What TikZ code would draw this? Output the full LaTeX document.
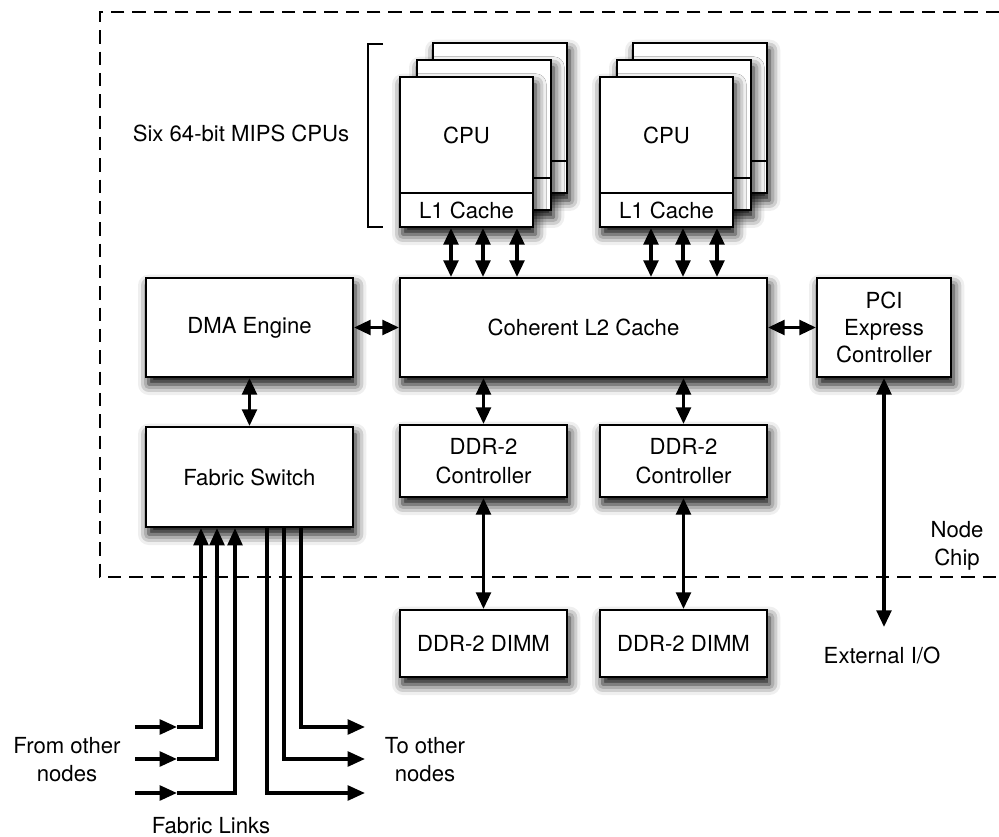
\documentclass[tikz,border=0pt]{standalone}
\usepackage{fontspec}
\setmainfont{TeX Gyre Heros}
\usetikzlibrary{arrows.meta,fit,shadows.blur,calc}
\begin{document}
\begin{tikzpicture}[x=0.75pt,y=-0.75pt,
  font=\fontsize{16.6}{19}\selectfont,
  box/.style={draw,line width=1.5pt,fill=white,inner sep=0pt,
    blur shadow={shadow xshift=2pt,shadow yshift=-5.5pt,shadow blur radius=8pt,shadow opacity=100}},
  plainbox/.style={draw,line width=1.5pt,fill=white,inner sep=0pt},
  link/.style={line width=2.6pt,line join=miter},
  biarrow/.style={link,{Triangle[length=12.5pt,width=11pt]}-{Triangle[length=12.5pt,width=11pt]}},
  uniarrow/.style={link,-{Triangle[length=13pt,width=11pt]}},
  chip/.style={line width=1.1pt,dash pattern=on 10pt off 6pt},
  lbl/.style={align=center,inner sep=0pt}]
\useasboundingbox (0,0) rectangle (999,837);

% chip boundary
\draw[chip] (999,12) -- (100,12) -- (100,577) -- (999,577);

% bracket
\draw[line width=1.3pt] (383,44) -- (368,44) -- (368,227) -- (383,227);
\node[lbl] (six) at (241,133) {Six 64-bit MIPS CPUs};

% left CPU stack
\node[box,fit={(433,43)(567,193)}] (cpuA3) {};
\draw[line width=1.5pt] ([yshift=25pt]cpuA3.south west) -- ([yshift=25pt]cpuA3.south east);
\node[box,fit={(417,60)(551,210)}] (cpuA2) {};
\draw[line width=1.5pt] ([yshift=25pt]cpuA2.south west) -- ([yshift=25pt]cpuA2.south east);
\node[box,fit={(400,77)(533,227)}] (cpuA) {};
\node[plainbox,fit={(400,193)(533,227)}] (l1A) {};
\node[lbl] (l1At) at (l1A.center) {L1 Cache};
\node[lbl] (cpuAt) at (466.5,135) {CPU};

% right CPU stack
\node[box,fit={(633,43)(767,193)}] (cpuB3) {};
\draw[line width=1.5pt] ([yshift=25pt]cpuB3.south west) -- ([yshift=25pt]cpuB3.south east);
\node[box,fit={(617,60)(751,210)}] (cpuB2) {};
\draw[line width=1.5pt] ([yshift=25pt]cpuB2.south west) -- ([yshift=25pt]cpuB2.south east);
\node[box,fit={(600,77)(733,227)}] (cpuB) {};
\node[plainbox,fit={(600,193)(733,227)}] (l1B) {};
\node[lbl] (l1Bt) at (l1B.center) {L1 Cache};
\node[lbl] (cpuBt) at (666.5,135) {CPU};

% main blocks
\node[box,fit={(146,278)(353,377)}] (dma) {};
\node[lbl] (dmat) at (dma.center) {DMA Engine};
\node[box,fit={(400,278)(767,377)}] (l2) {};
\node[lbl] (l2t) at (l2.center) {Coherent L2 Cache};
\node[box,fit={(817,278)(951,377)}] (pci) {};
\node[lbl,font=\fontsize{16.6}{20.5}\selectfont] (pcit) at (pci.center) {PCI\\Express\\Controller};
\node[box,fit={(146,427)(353,527)}] (fab) {};
\node[lbl] (fabt) at (fab.center) {Fabric Switch};
\node[box,fit={(400,425)(567,497)}] (ctrlA) {};
\node[lbl,font=\fontsize{16.6}{22}\selectfont] (ctrlAt) at (ctrlA.center) {DDR-2\\Controller};
\node[box,fit={(600,425)(767,497)}] (ctrlB) {};
\node[lbl,font=\fontsize{16.6}{22}\selectfont] (ctrlBt) at (ctrlB.center) {DDR-2\\Controller};
\node[box,fit={(400,610)(567,677)}] (dimmA) {};
\node[lbl] (dimmAt) at (dimmA.center) {DDR-2 DIMM};
\node[box,fit={(600,610)(767,677)}] (dimmB) {};
\node[lbl] (dimmBt) at (dimmB.center) {DDR-2 DIMM};

% L1 <-> L2
\foreach \dx in {-15.5,16.5,50.5} {
  \draw[biarrow] ($(l1A.south)+(\dx,0)$) -- ($(l1A.south |- l2.north)+(\dx,0)$);
  \draw[biarrow] ($(l1B.south)+(\dx,0)$) -- ($(l1B.south |- l2.north)+(\dx,0)$);
}

\draw[biarrow] (dma) -- (l2);
\draw[biarrow] (l2) -- (pci);
\draw[biarrow] (dma) -- (fab);
\draw[biarrow] (ctrlA.north |- l2.south) -- (ctrlA.north);
\draw[biarrow] (ctrlB.north |- l2.south) -- (ctrlB.north);
\draw[biarrow] (ctrlA) -- (dimmA);
\draw[biarrow] (ctrlB) -- (dimmB);

\coordinate (ext) at (884,627);
\draw[biarrow] (pci) -- (ext);
\node[lbl] (extio) at (882,655) {External I/O};
\node[lbl,font=\fontsize{16.6}{21}\selectfont] (nodechip) at (957,546) {Node\\Chip};

% fabric links
\coordinate (in1) at (135,727);
\coordinate (in2) at (135,759);
\coordinate (in3) at (135,793);
\coordinate (in1m) at (177,727);
\coordinate (in2m) at (177,759);
\coordinate (in3m) at (177,793);
\coordinate (out1) at (365,727);
\coordinate (out2) at (365,759);
\coordinate (out3) at (365,793);

\draw[uniarrow] (in1) -- (in1m);
\draw[uniarrow] (in2) -- (in2m);
\draw[uniarrow] (in3) -- (in3m);
\draw[uniarrow] (in1m) -| ($(fab.south)+(-48.5,0)$);
\draw[uniarrow] (in2m) -| ($(fab.south)+(-32.5,0)$);
\draw[uniarrow] (in3m) -| ($(fab.south)+(-14.5,0)$);
\draw[uniarrow] ($(fab.south)+(51.5,0)$) |- (out1);
\draw[uniarrow] ($(fab.south)+(34.5,0)$) |- (out2);
\draw[uniarrow] ($(fab.south)+(17.5,0)$) |- (out3);

\node[lbl,font=\fontsize{16.6}{21}\selectfont] (fromtxt) at (67,760) {From other\\nodes};
\node[lbl,font=\fontsize{16.6}{21}\selectfont] (totxt) at (425,760) {To other\\nodes};
\node[lbl] (fabtxt) at (211,826) {Fabric Links};
\end{tikzpicture}
\end{document}
